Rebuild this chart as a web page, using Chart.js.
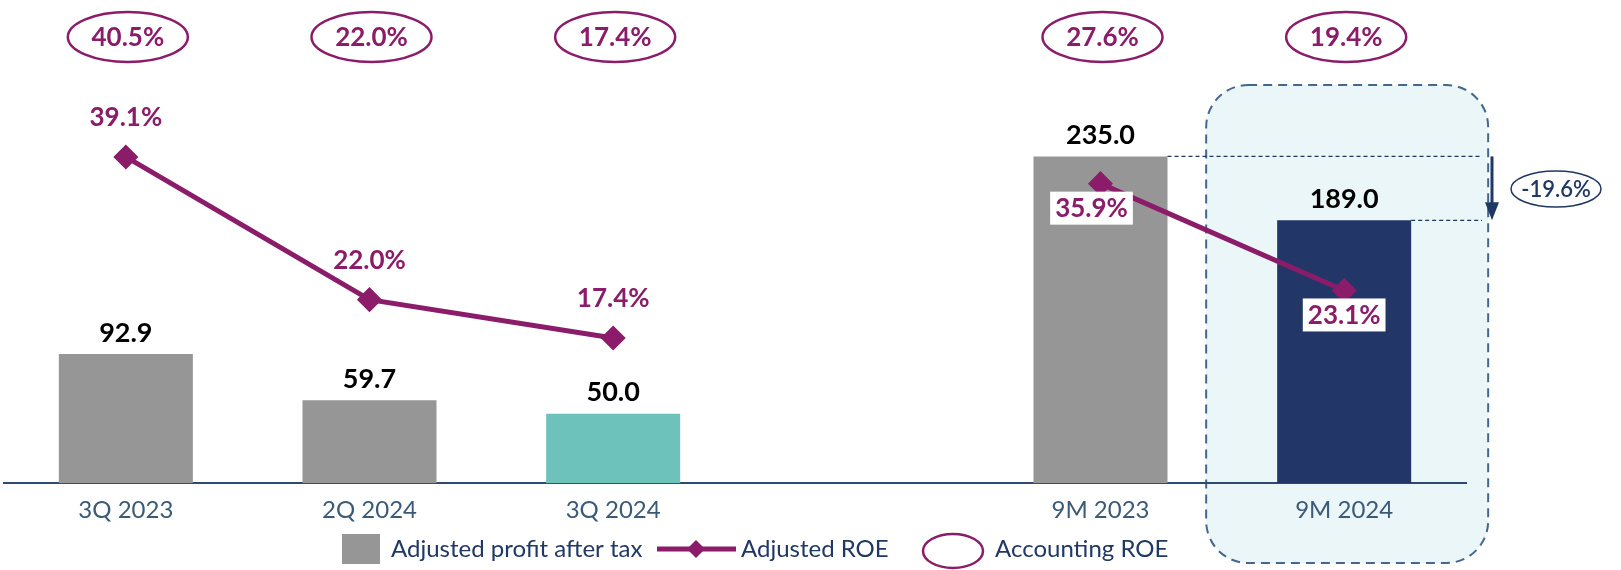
<!DOCTYPE html>
<html>
<head>
<meta charset="utf-8">
<script src="https://cdn.jsdelivr.net/npm/chart.js@4.4.1/dist/chart.umd.min.js"></script>
<style>
  body { margin: 0; background: #fff; }
  #wrap { width: 1621px; height: 570px; position: relative; }
</style>
</head>
<body>
<div id="wrap"><canvas id="roeChart"></canvas></div>
<script>
const categories = ['3Q 2023', '2Q 2024', '3Q 2024', '', '9M 2023', '9M 2024'];
const profitAfterTax = [92.9, 59.7, 50.0, null, 235.0, 189.0];
const adjustedRoe = [39.1, 22.0, 17.4, null, 35.9, 23.1];
const accountingRoe = [40.5, 22.0, 17.4, null, 27.6, 19.4];

const barColors = ['#969696', '#969696', '#6DC3BC', '#969696', '#969696', '#223767'];
const purple = '#8B1C6A';
const navy = '#1F3864';
const fontFam = 'Lato, "Open Sans", sans-serif';

// light box behind the 9M 2024 column
const highlightBox = {
    id: 'highlightBox',
    beforeDraw(chart) {
        const ctx = chart.ctx;
        const x = chart.scales.x.getPixelForValue(5);
        const left = x - 138, right = x + 144, top = 85, bottom = 563;
        ctx.save();
        ctx.beginPath();
        ctx.roundRect(left, top, right - left, bottom - top, 42);
        ctx.fillStyle = '#EAF6F7';
        ctx.fill();
        ctx.setLineDash([9, 6]);
        ctx.lineWidth = 2;
        ctx.strokeStyle = '#44678F';
        ctx.stroke();
        ctx.restore();
    }
};

function boxLabel(ctx, text, cx, cy) {
    ctx.font = 'bold 26px ' + fontFam;
    const w = ctx.measureText(text).width + 10;
    ctx.fillStyle = '#fff';
    ctx.fillRect(cx - w / 2, cy - 16, w, 33);
    ctx.fillStyle = purple;
    ctx.fillText(text, cx, cy + 1);
}

const annotations = {
    id: 'annotations',
    afterDraw(chart) {
        const ctx = chart.ctx;
        const xs = chart.scales.x;
        const bars = chart.getDatasetMeta(1).data;
        const pts = chart.getDatasetMeta(0).data;
        ctx.save();
        ctx.textAlign = 'center';
        ctx.textBaseline = 'middle';

        // bar values
        ctx.font = 'bold 27px ' + fontFam;
        ctx.fillStyle = '#000';
        profitAfterTax.forEach((v, i) => {
            if (v == null) return;
            ctx.fillText(v.toFixed(1), bars[i].x, bars[i].y - 21);
        });

        // adjusted ROE labels
        adjustedRoe.forEach((v, i) => {
            if (v == null) return;
            const p = pts[i];
            if (i < 3) {
                ctx.font = 'bold 26px ' + fontFam;
                ctx.fillStyle = purple;
                ctx.fillText(v.toFixed(1) + '%', p.x, p.y - 39);
            } else if (i === 4) {
                boxLabel(ctx, v.toFixed(1) + '%', p.x - 9, p.y + 24);
            } else {
                boxLabel(ctx, v.toFixed(1) + '%', p.x, p.y + 24);
            }
        });

        // accounting ROE ellipses
        accountingRoe.forEach((v, i) => {
            if (v == null) return;
            const x = xs.getPixelForValue(i) + 2;
            ctx.beginPath();
            ctx.ellipse(x, 37, 60, 25, 0, 0, Math.PI * 2);
            ctx.lineWidth = 2.5;
            ctx.strokeStyle = purple;
            ctx.stroke();
            ctx.font = 'bold 26px ' + fontFam;
            ctx.fillStyle = purple;
            ctx.fillText(v.toFixed(1) + '%', x, 38);
        });

        // 9M change bracket
        const a = bars[4], b = bars[5];
        const endX = 1482, arrX = 1492;
        ctx.setLineDash([4, 3]);
        ctx.lineWidth = 1.2;
        ctx.strokeStyle = navy;
        ctx.beginPath();
        ctx.moveTo(a.x + a.width / 2, a.y); ctx.lineTo(endX, a.y);
        ctx.moveTo(b.x + b.width / 2, b.y); ctx.lineTo(endX, b.y);
        ctx.stroke();
        ctx.setLineDash([]);
        ctx.lineWidth = 3;
        ctx.beginPath();
        ctx.moveTo(arrX, a.y); ctx.lineTo(arrX, b.y - 12);
        ctx.stroke();
        ctx.fillStyle = navy;
        ctx.beginPath();
        ctx.moveTo(arrX - 7, b.y - 18); ctx.lineTo(arrX + 7, b.y - 18); ctx.lineTo(arrX, b.y);
        ctx.closePath();
        ctx.fill();

        const change = (profitAfterTax[5] / profitAfterTax[4] - 1) * 100;
        ctx.beginPath();
        ctx.ellipse(1556, 189, 45, 18, 0, 0, Math.PI * 2);
        ctx.lineWidth = 1.5;
        ctx.stroke();
        ctx.font = '600 22px ' + fontFam;
        ctx.fillText(change.toFixed(1) + '%', 1556, 190);

        // legend
        const ly = 549;
        ctx.textAlign = 'left';
        ctx.font = '24px ' + fontFam;
        ctx.fillStyle = '#969696';
        ctx.fillRect(342, 534, 38, 30);
        ctx.fillStyle = navy;
        ctx.fillText('Adjusted profit after tax', 391, ly);

        ctx.strokeStyle = purple;
        ctx.lineWidth = 5;
        ctx.beginPath();
        ctx.moveTo(657, ly); ctx.lineTo(736, ly);
        ctx.stroke();
        ctx.fillStyle = purple;
        ctx.beginPath();
        ctx.moveTo(696, ly - 9); ctx.lineTo(705, ly); ctx.lineTo(696, ly + 9); ctx.lineTo(687, ly);
        ctx.closePath();
        ctx.fill();
        ctx.fillStyle = navy;
        ctx.fillText('Adjusted ROE', 741, ly);

        ctx.beginPath();
        ctx.ellipse(953, 551, 30, 17, 0, 0, Math.PI * 2);
        ctx.lineWidth = 2.5;
        ctx.stroke();
        ctx.fillText('Accounting ROE', 995, ly);
        ctx.restore();
    }
};

const ctx = document.getElementById('roeChart').getContext('2d');
new Chart(ctx, {
    data: {
        labels: categories,
        datasets: [{
            type: 'line',
            label: 'Adjusted ROE',
            data: adjustedRoe,
            yAxisID: 'y2',
            borderColor: purple,
            backgroundColor: purple,
            borderWidth: 5,
            pointStyle: 'rectRot',
            pointRadius: 9,
            pointHoverRadius: 9,
            spanGaps: false,
            order: 0
        }, {
            type: 'bar',
            label: 'Adjusted profit after tax',
            data: profitAfterTax,
            yAxisID: 'y',
            backgroundColor: barColors,
            barPercentage: 0.55,
            categoryPercentage: 1,
            order: 1
        }]
    },
    options: {
        responsive: true,
        maintainAspectRatio: false,
        animation: false,
        layout: { autoPadding: false, padding: { left: 4, right: 155, top: 66, bottom: 40 } },
        scales: {
            x: {
                grid: { display: false },
                border: { display: true, color: '#2E4A6E', width: 2 },
                ticks: {
                    color: '#3A5A78',
                    font: { family: fontFam, size: 24 },
                    padding: 5
                }
            },
            y: { display: false, min: 0, max: 300 },
            y2: { display: false, min: 0, max: 50 }
        },
        plugins: {
            legend: { display: false },
            tooltip: { enabled: false }
        }
    },
    plugins: [highlightBox, annotations]
});
</script>
</body>
</html>
